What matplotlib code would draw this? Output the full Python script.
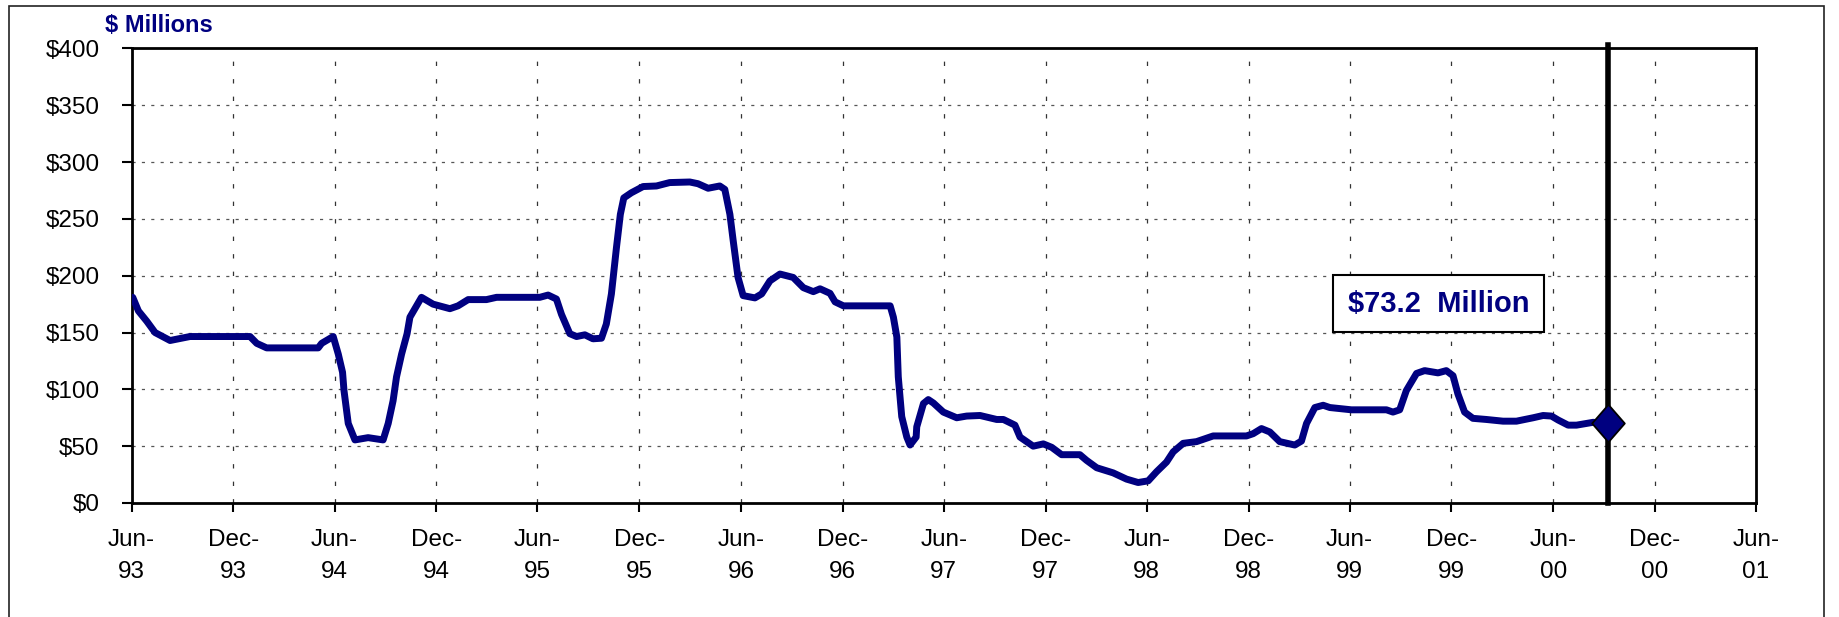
import numpy as np
import matplotlib
matplotlib.use("Agg")
import matplotlib.pyplot as plt
from matplotlib.patches import Rectangle

plt.rcParams['font.family'] = ['Liberation Sans', 'DejaVu Sans']

# balance, $ millions (x as decimal years)
years = [1993.419, 1993.447, 1993.488, 1993.529, 1993.603, 1993.701, 1993.997, 1994.030,
         1994.079, 1994.333, 1994.350, 1994.407, 1994.432, 1994.453, 1994.460, 1994.481,
         1994.514, 1994.579, 1994.653, 1994.678, 1994.702, 1994.719, 1994.744, 1994.771,
         1994.785, 1994.842, 1994.899, 1994.982, 1995.022, 1995.072, 1995.162, 1995.212,
         1995.425, 1995.466, 1995.507, 1995.532, 1995.573, 1995.606, 1995.647, 1995.687,
         1995.729, 1995.753, 1995.778, 1995.803, 1995.822, 1995.839, 1995.876, 1995.934,
         1996.000, 1996.065, 1996.164, 1996.204, 1996.254, 1996.311, 1996.336, 1996.361,
         1996.377, 1996.401, 1996.426, 1996.484, 1996.517, 1996.558, 1996.607, 1996.672,
         1996.722, 1996.771, 1996.804, 1996.853, 1996.878, 1996.919, 1997.149, 1997.165,
         1997.182, 1997.189, 1997.206, 1997.231, 1997.247, 1997.277, 1997.280, 1997.313,
         1997.337, 1997.362, 1997.411, 1997.477, 1997.526, 1997.592, 1997.674, 1997.707,
         1997.764, 1997.789, 1997.854, 1997.904, 1997.945, 1997.994, 1998.084, 1998.117,
         1998.167, 1998.248, 1998.314, 1998.371, 1998.421, 1998.462, 1998.511, 1998.544,
         1998.593, 1998.659, 1998.700, 1998.741, 1998.905, 1998.938, 1998.979, 1999.020,
         1999.069, 1999.143, 1999.176, 1999.201, 1999.242, 1999.283, 1999.316, 1999.422,
         1999.595, 1999.627, 1999.660, 1999.693, 1999.743, 1999.783, 1999.849, 1999.890,
         1999.923, 1999.947, 1999.980, 2000.021, 2000.087, 2000.169, 2000.235, 2000.317,
         2000.366, 2000.407, 2000.440, 2000.489, 2000.530, 2000.612, 2000.683]
values = [181, 169, 160, 150, 143, 146.5, 146.5, 140.5,
          136.5, 136.5, 140.5, 146.5, 131, 115, 99, 70,
          55.5, 57.5, 55.5, 70, 90, 111, 131, 149,
          163.5, 181, 175, 171, 173.5, 179, 179, 181,
          181, 183, 179.5, 166, 149, 146.5, 148, 144.5,
          145, 157.5, 184, 225, 254, 268.5, 273, 278.5,
          279, 282, 282.5, 281, 277, 279, 276, 254,
          231, 198.5, 182.5, 180.5, 184, 195.5, 201.5, 198.5,
          189.5, 186, 188.5, 184.5, 177, 173.5, 173.5, 163.5,
          146, 111, 76, 58, 51, 58, 67, 87.5,
          91, 88, 80, 75, 76.5, 77, 73.5, 73.5,
          68.5, 58, 50, 52, 49, 42.5, 42.5, 37.5,
          31, 26.5, 21, 18, 19.5, 27.5, 36, 45,
          52.5, 54, 56.5, 59, 59, 61, 65.5, 62.5,
          54, 51, 54.5, 70, 84, 86, 84, 82,
          82, 80, 82, 99, 114, 116.5, 114.5, 116.5,
          112, 96, 80, 74.5, 73.5, 72, 72, 75,
          77, 76.5, 73, 68.5, 68.5, 71, 70]

current_label = "$73.2  Million"
current_date = "2000-09-07"

tick_dates = ["1993-06-01", "1993-12-01", "1994-06-01", "1994-12-01", "1995-06-01",
              "1995-12-01", "1996-06-01", "1996-12-01", "1997-06-01", "1997-12-01",
              "1998-06-01", "1998-12-01", "1999-06-01", "1999-12-01", "2000-06-01",
              "2000-12-01", "2001-06-01"]
tick_labels = ["Jun-\n93", "Dec-\n93", "Jun-\n94", "Dec-\n94", "Jun-\n95", "Dec-\n95",
               "Jun-\n96", "Dec-\n96", "Jun-\n97", "Dec-\n97", "Jun-\n98", "Dec-\n98",
               "Jun-\n99", "Dec-\n99", "Jun-\n00", "Dec-\n00", "Jun-\n01"]
y_ticks = [0, 50, 100, 150, 200, 250, 300, 350, 400]
y_labels = ["$0", "$50", "$100", "$150", "$200", "$250", "$300", "$350", "$400"]


def to_date(v):
    yr = int(v)
    start = np.datetime64(f"{yr}-01-01")
    ndays = (np.datetime64(f"{yr + 1}-01-01") - start).astype(int)
    return start + np.timedelta64(int(round((v - yr) * ndays * 24)), "h")


dates = [to_date(v) for v in years]
navy = "#000080"

fig = plt.figure(figsize=(18.39, 6.17), dpi=100)
ax = fig.add_axes([0.0716, 0.1848, 0.8833, 0.7366])

ax.plot(dates, values, color=navy, lw=5, solid_joinstyle="round",
        solid_capstyle="round", zorder=4)

vline = np.datetime64(current_date)
ax.axvline(vline, ymin=0, ymax=1.008, color="black", lw=4, zorder=5, clip_on=False)
diamond = [(0, 1), (0.87, 0), (0, -1), (-0.87, 0), (0, 1)]
ax.plot([vline], [values[-1]], marker=diamond, ms=27, mfc=navy, mec="black",
        mew=1.3, zorder=6, clip_on=False)

ax.text(0.8047, 0.4385, current_label, transform=ax.transAxes, ha="center",
        va="center", fontsize=21, fontweight="bold", color=navy, zorder=7,
        bbox=dict(boxstyle="square,pad=0.5", fc="white", ec="black", lw=1.5))

ax.set_xlim(np.datetime64(tick_dates[0]), np.datetime64(tick_dates[-1]))
ax.set_ylim(0, 400)
ax.set_xticks([np.datetime64(d) for d in tick_dates])
ax.set_xticklabels(tick_labels, fontsize=17.5, linespacing=1.6)
ax.set_yticks(y_ticks)
ax.set_yticklabels(y_labels, fontsize=17.5)
ax.tick_params(axis="x", direction="out", length=6.5, width=1.5, pad=12)
ax.tick_params(axis="y", direction="out", length=7, width=1.5, pad=16)

for gx in tick_dates[1:-1]:
    ax.axvline(np.datetime64(gx), color="#333333", lw=0.9, dashes=(3.5, 10.5), zorder=1)
for gy in y_ticks[1:-1]:
    ax.axhline(gy, color="#555555", lw=0.9, dashes=(2.5, 5), zorder=1)

for s in ax.spines.values():
    s.set_linewidth(2)
    s.set_color("black")

fig.text(105 / 1839, 1 - 25 / 617, "$ Millions", fontsize=17, fontweight="bold",
         color=navy, ha="left", va="center")

fig.patches.append(Rectangle((9 / 1839, -0.05), (1823.5 - 9) / 1839, 0.05 + 1 - 6 / 617,
                             transform=fig.transFigure, fill=False, ec="#222222",
                             lw=1.2, clip_on=False))

fig.savefig("out.png", dpi=100)
